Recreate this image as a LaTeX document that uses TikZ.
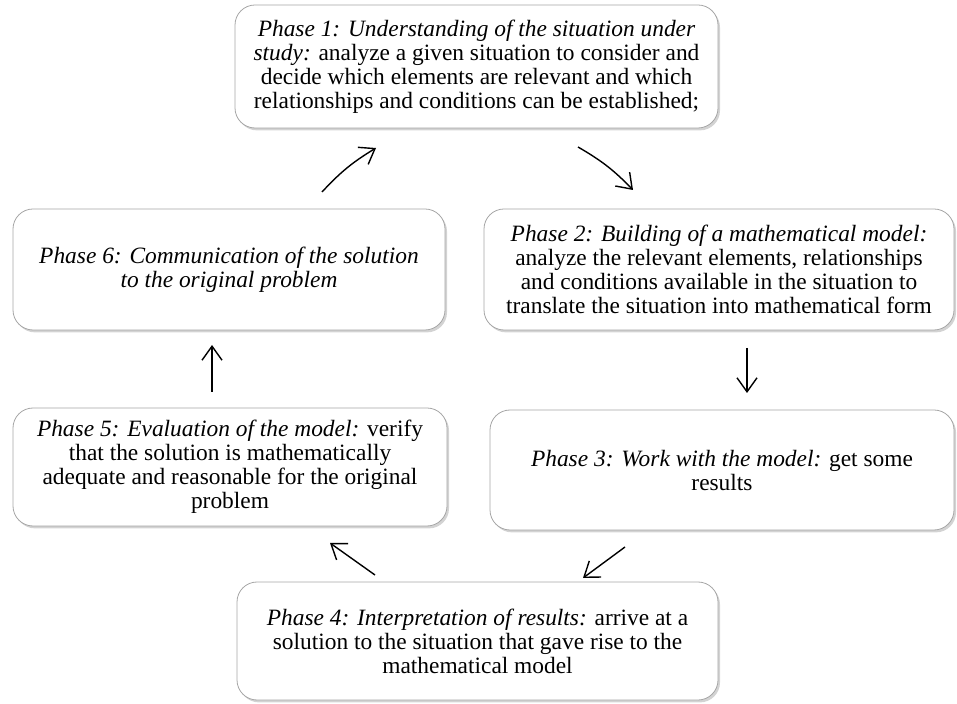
\documentclass[tikz,border=0pt]{standalone}
\usepackage{fontspec}
\setmainfont{Liberation Serif}
\usetikzlibrary{arrows.meta,shadows}
\begin{document}
\begin{tikzpicture}[x=0.5pt,y=-0.5pt,
    phase/.style={draw=gray!70,fill=white,rounded corners=10pt,align=center,
      font=\fontsize{11.7}{12}\selectfont,inner sep=0pt,
      drop shadow={opacity=0.35,shadow xshift=1pt,shadow yshift=-1.2pt}},
    cyc/.style={-{Straight Barb[length=7pt,width=10pt]},line width=0.7pt}]
    \useasboundingbox (0,0) rectangle (957,704);
    \node[phase,minimum width=241.5pt,minimum height=61.5pt] (p1) at (476.5,66.5)
      {\textit{Phase 1: Understanding of the situation under}\\
       \textit{study:} analyze a given situation to consider and\\
       decide which elements are relevant and which\\
       relationships and conditions can be established;};
    \node[phase,minimum width=235pt,minimum height=60.5pt] (p2) at (719,269.5)
      {\textit{Phase 2: Building of a mathematical model:}\\
       analyze the relevant elements, relationships\\
       and conditions available in the situation to\\
       translate the situation into mathematical form};
    \node[phase,minimum width=232pt,minimum height=60pt] (p3) at (722,470)
      {\textit{Phase 3: Work with the model:} get some\\ results};
    \node[phase,minimum width=240.5pt,minimum height=59pt] (p4) at (477.5,641)
      {\textit{Phase 4: Interpretation of results:} arrive at a\\
       solution to the situation that gave rise to the\\
       mathematical model};
    \node[phase,minimum width=217pt,minimum height=59pt] (p5) at (230,467)
      {\textit{Phase 5: Evaluation of the model:} verify\\
       that the solution is mathematically\\
       adequate and reasonable for the original\\
       problem};
    \node[phase,minimum width=216pt,minimum height=60.5pt] (p6) at (229,269.5)
      {\textit{Phase 6: Communication of the solution}\\
       \textit{to the original problem}};
    \coordinate (a61) at (322,192); \coordinate (b61) at (376,148);
    \coordinate (a12) at (578,147); \coordinate (b12) at (633,190);
    \coordinate (a23) at (747,348); \coordinate (b23) at (747,393);
    \coordinate (a34) at (625,547); \coordinate (b34) at (583,578);
    \coordinate (a45) at (375,575); \coordinate (b45) at (330,543);
    \coordinate (a56) at (212,392); \coordinate (b56) at (212,345);
    \draw[cyc] (a61) to[bend left=8] (b61);
    \draw[cyc] (a12) to[bend left=8] (b12);
    \draw[cyc] (a23) -- (b23);
    \draw[cyc] (a34) -- (b34);
    \draw[cyc] (a45) -- (b45);
    \draw[cyc] (a56) -- (b56);
  \end{tikzpicture}
\end{document}
